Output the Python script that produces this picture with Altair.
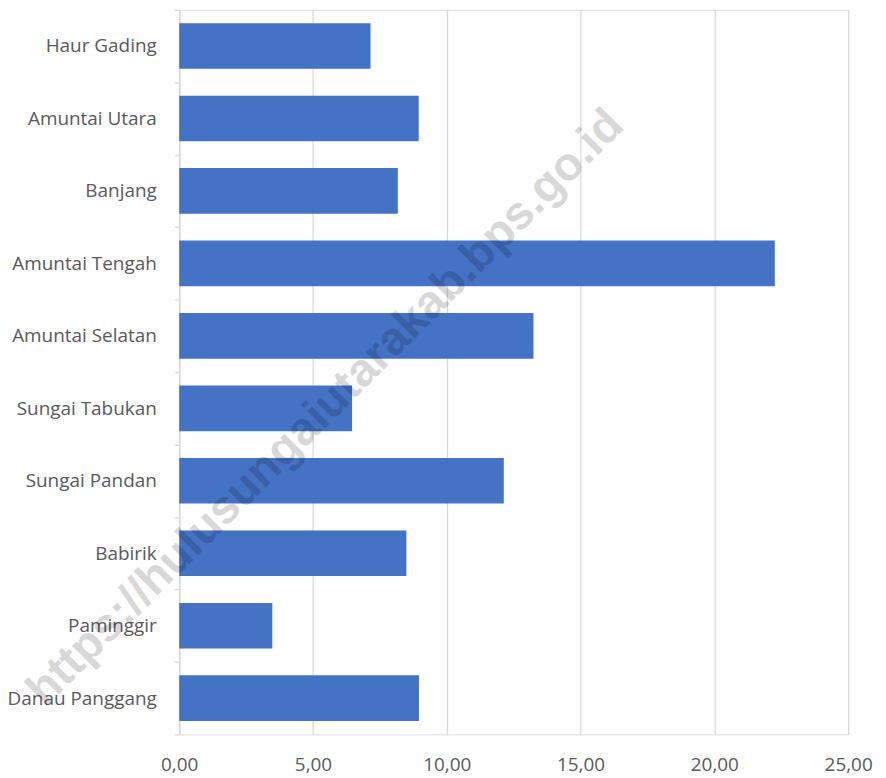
import altair as alt
import pandas as pd

categories = ["Haur Gading", "Amuntai Utara", "Banjang", "Amuntai Tengah",
              "Amuntai Selatan", "Sungai Tabukan", "Sungai Pandan", "Babirik",
              "Paminggir", "Danau Panggang"]
values = [7.15, 8.95, 8.17, 22.26, 13.24, 6.46, 12.13, 8.49, 3.48, 8.96]
x_ticks = [0, 5, 10, 15, 20, 25]
watermark = ["https://hulusungaiutarakab.bps.go.id"]

df = pd.DataFrame({"kecamatan": categories, "nilai": values})
wm = pd.DataFrame({"t": watermark})

FONT = "Open Sans"
LABEL_COLOR = "#595959"
GRID = "#d9d9d9"

bars = alt.Chart(df).mark_bar(color="#4472C4", height={"band": 0.63}).encode(
    x=alt.X("nilai:Q",
            scale=alt.Scale(domain=[0, 25], nice=False, zero=True),
            axis=alt.Axis(values=x_ticks, title=None, domain=False, ticks=False,
                          grid=True, gridColor=GRID, gridWidth=1.3,
                          labelFlush=False, labelOverlap=False,
                          labelExpr="replace(format(datum.value, '.2f'), '.', ',')",
                          labelFont=FONT, labelFontSize=19, labelColor=LABEL_COLOR,
                          labelPadding=21)),
    y=alt.Y("kecamatan:N", sort=categories,
            scale=alt.Scale(paddingInner=0, paddingOuter=0),
            axis=alt.Axis(title=None, domain=True, domainColor=GRID, domainWidth=1.3,
                          ticks=True, tickBand="extent", tickSize=5, tickColor=GRID,
                          tickWidth=1.3, grid=False,
                          labelFont=FONT, labelFontSize=19, labelColor=LABEL_COLOR,
                          labelPadding=18)),
)

text = alt.Chart(wm).mark_text(
    angle=315, font="Liberation Sans", fontWeight="bold", fontSize=47,
    color="black", opacity=0.15, align="center", baseline="middle"
).encode(
    text="t:N",
    x=alt.value(147),
    y=alt.value(400),
)

chart = alt.layer(bars, text).properties(
    width=672, height=728,
    autosize=alt.AutoSizeParams(type="none"),
    padding={"left": 172, "top": 0, "right": 30, "bottom": 40},
).configure_view(stroke=None).configure(background="white")

chart.save("out.html", embed_options={"renderer": "svg", "actions": False})
